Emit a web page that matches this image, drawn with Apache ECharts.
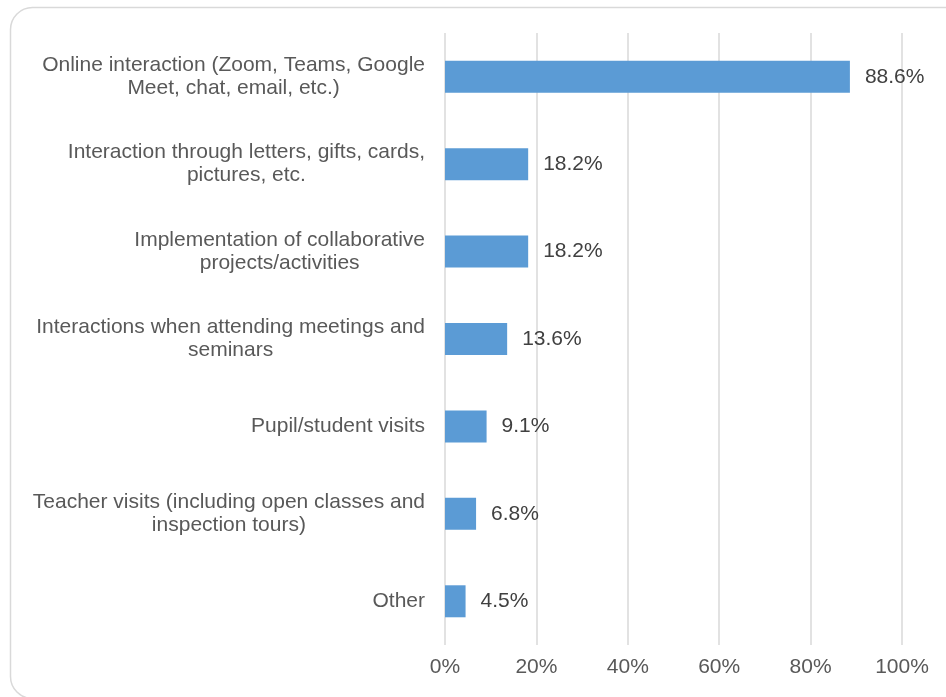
<!DOCTYPE html>
<html>
<head>
<meta charset="utf-8">
<script src="https://cdn.jsdelivr.net/npm/echarts@6/dist/echarts.min.js"></script>
<style>
  html, body { margin: 0; padding: 0; background: #fff; }
  #chart { width: 946px; height: 697px; }
</style>
</head>
<body>
<div id="chart"></div>
<script>
// Forms of interaction, share of respondents (%)
const categories = [
  'Online interaction (Zoom, Teams, Google\nMeet, chat, email, etc.)',
  'Interaction through letters, gifts, cards,\npictures, etc.',
  'Implementation of collaborative\nprojects/activities',
  'Interactions when attending meetings and\nseminars',
  'Pupil/student visits',
  'Teacher visits (including open classes and\ninspection tours)',
  'Other'
];
const shares = [88.6, 18.2, 18.2, 13.6, 9.1, 6.8, 4.5];
const axisTicks = [0, 20, 40, 60, 80, 100];

const chart = echarts.init(document.getElementById('chart'), null, { renderer: 'canvas' });
const font = '"Liberation Sans", Arial, sans-serif';

chart.setOption({
  backgroundColor: '#ffffff',
  animation: false,
  graphic: [{
    type: 'rect',
    left: 8, top: 5,
    shape: { width: 960, height: 691, r: 22 },
    style: { fill: 'none', stroke: '#d9d9d9', lineWidth: 1.5 },
    silent: true,
    z: -1
  }],
  grid: { left: 445, right: 44, top: 33, bottom: 52, containLabel: false },
  xAxis: {
    type: 'value',
    min: axisTicks[0],
    max: axisTicks[axisTicks.length - 1],
    interval: axisTicks[1] - axisTicks[0],
    axisLine: { show: false },
    axisTick: { show: false },
    splitLine: { lineStyle: { color: '#d9d9d9', width: 1.5 } },
    axisLabel: {
      formatter: v => v + '%',
      color: '#595959',
      fontFamily: font,
      fontSize: 21,
      margin: 12
    }
  },
  yAxis: {
    type: 'category',
    data: categories,
    inverse: true,
    axisLine: { show: false },
    axisTick: { show: false },
    axisLabel: {
      // block is right-aligned to the plot; lines are centred within it
      formatter: v => v.split('\n').map(s => '{c|' + s + '}').join('\n'),
      align: 'right',
      margin: 20,
      rich: {
        c: {
          align: 'center',
          color: '#595959',
          fontFamily: font,
          fontSize: 21,
          lineHeight: 23
        }
      }
    }
  },
  series: [{
    type: 'bar',
    data: shares,
    barWidth: 32,
    itemStyle: { color: '#5b9bd5' },
    label: {
      show: true,
      position: 'right',
      distance: 15,
      formatter: p => p.value.toFixed(1) + '%',
      color: '#404040',
      fontFamily: font,
      fontSize: 21
    }
  }]
});
</script>
</body>
</html>
